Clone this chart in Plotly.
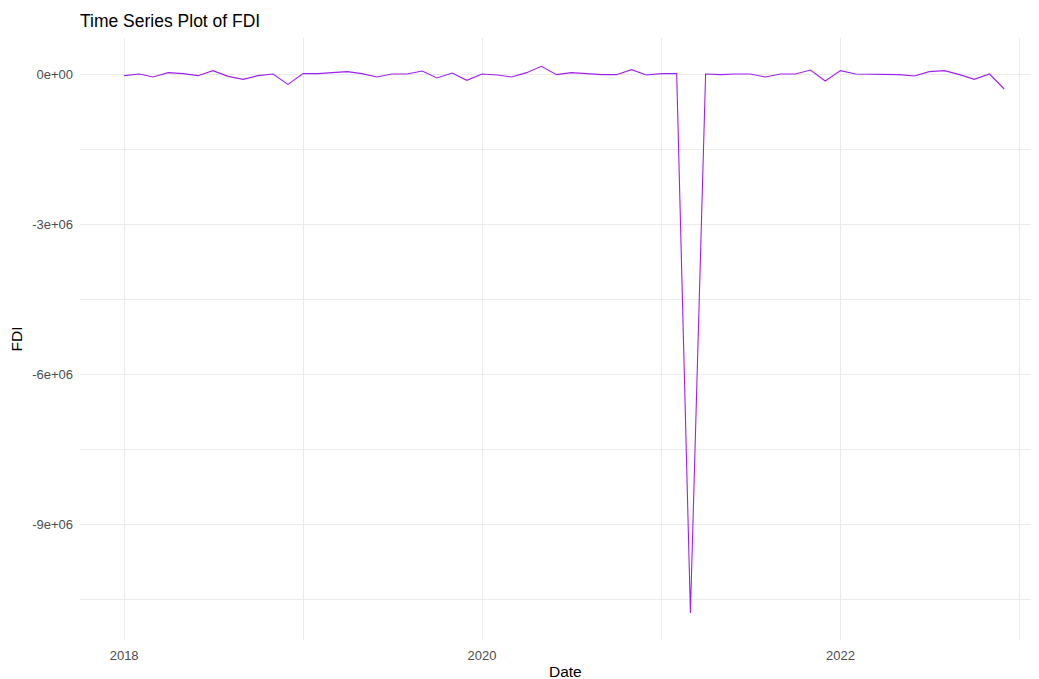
import pandas as pd
import plotly.graph_objects as go

dates = pd.date_range("2018-01-01", "2022-12-01", freq="MS")
fdi_2018 = [-33000, 0, -60000, 27000, 7000, -33000, 67000, -47000, -107000, -33000, 0, -207000]
fdi_2019 = [7000, 7000, 27000, 47000, 7000, -60000, 0, 0, 60000, -80000, 20000, -127000]
fdi_2020 = [0, -20000, -60000, 27000, 153000, -13000, 27000, 7000, -13000, -13000, 87000, -20000]
fdi_2021 = [7000, 7000, -10780000, 0, -13000, 0, 0, -60000, 0, 0, 80000, -140000]
fdi_2022 = [67000, 0, 0, 0, -13000, -40000, 47000, 67000, -13000, -107000, 0, -300000]
fdi = fdi_2018 + fdi_2019 + fdi_2020 + fdi_2021 + fdi_2022

y_tickvals = [0, -3e6, -6e6, -9e6]
y_ticktext = ["0e+00", "-3e+06", "-6e+06", "-9e+06"]
y_minorvals = [-1.5e6, -4.5e6, -7.5e6, -10.5e6]
x_tickvals = ["2018-01-01", "2020-01-01", "2022-01-01"]
x_ticktext = ["2018", "2020", "2022"]
x_minorvals = ["2019-01-01", "2021-01-01", "2023-01-01"]

FONT = "Liberation Sans, Arial, sans-serif"
GRID = "#EBEBEB"

# page has an 8px body margin; figure is sized to fill the rest of the window
W, H = 1031, 671
ML, MR, MT, MB = 72, 0, 30, 39

fig = go.Figure(go.Scatter(
    x=dates, y=fdi, mode="lines",
    line=dict(color="#A020F0", width=1.1),
    hoverinfo="x+y",
))

fig.update_layout(
    width=W, height=H,
    margin=dict(l=ML, r=MR, t=MT, b=MB, autoexpand=False),
    paper_bgcolor="white", plot_bgcolor="white",
    showlegend=False,
    font=dict(family=FONT, color="#4D4D4D", size=13),
    title=dict(text="Time Series Plot of FDI", x=0, xref="paper", xanchor="left",
               y=1 - 13 / H, yref="container", yanchor="middle",
               font=dict(family=FONT, size=17.5, color="black")),
    annotations=[dict(
        text="Date", showarrow=False,
        xref="paper", yref="paper",
        x=(557 - ML) / (W - ML - MR), y=-(664 - (H - MB)) / (H - MT - MB),
        xanchor="center", yanchor="middle",
        font=dict(family=FONT, size=15.5, color="black"),
    )],
)

fig.update_xaxes(
    range=["2017-10-03", "2023-02-10"],
    tickvals=x_tickvals, ticktext=x_ticktext,
    showgrid=True, gridcolor=GRID, gridwidth=1.1,
    minor=dict(tickvals=x_minorvals, showgrid=True, gridcolor=GRID, gridwidth=1.1, ticks=""),
    zeroline=False, showline=False, ticks="",
    ticklabelstandoff=6, automargin=False,
    tickfont=dict(size=13, color="#4D4D4D"),
)

fig.update_yaxes(
    range=[-11.32e6, 0.72e6],
    tickvals=y_tickvals, ticktext=y_ticktext,
    showgrid=True, gridcolor=GRID, gridwidth=1.1,
    minor=dict(tickvals=y_minorvals, showgrid=True, gridcolor=GRID, gridwidth=1.1, ticks=""),
    zeroline=False, showline=False, ticks="",
    ticklabelstandoff=6, automargin=False,
    tickfont=dict(size=13, color="#4D4D4D"),
    title=dict(text="FDI", standoff=5, font=dict(size=15.5, color="black")),
)

fig.write_html("out.html")
